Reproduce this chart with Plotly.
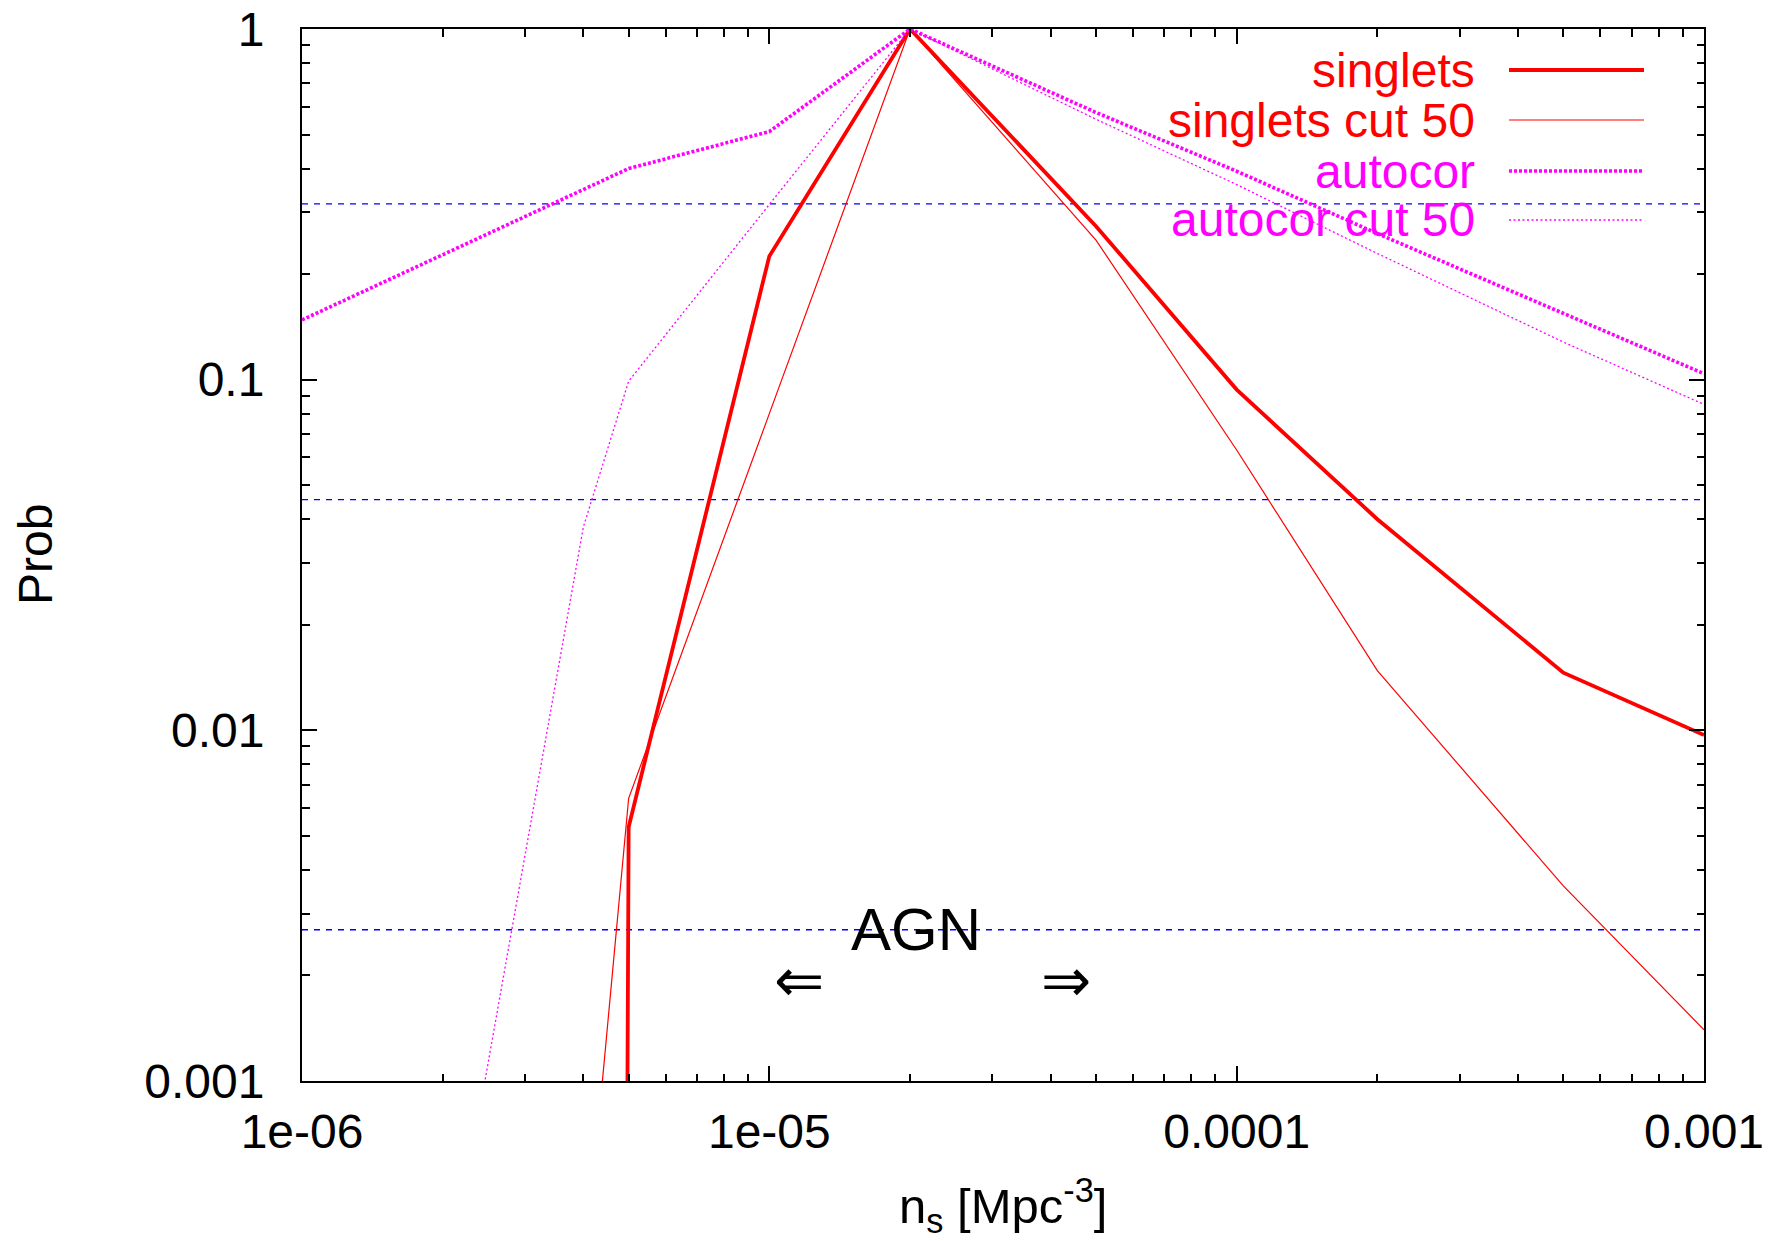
import math
import plotly.graph_objects as go

# number density of sources [Mpc^-3] and the probability curves
ns_singlets = [4e-6, 5e-6, 1e-5, 2e-5, 5e-5, 1e-4, 2e-4, 5e-4, 1e-3]
p_singlets = [1e-30, 0.0053, 0.225, 1.0, 0.274, 0.0937, 0.040, 0.0146, 0.0097]

ns_singlets_cut = [4e-6, 5e-6, 1e-5, 2e-5, 5e-5, 1e-4, 2e-4, 5e-4, 1e-3]
p_singlets_cut = [2.6e-4, 0.0064, 0.080, 1.0, 0.25, 0.063, 0.0148, 0.0036, 0.0014]

ns_autocor = [1e-6, 5e-6, 1e-5, 2e-5, 5e-5, 1e-4, 2e-4, 5e-4, 1e-3]
p_autocor = [0.148, 0.40, 0.51, 1.0, 0.578, 0.393, 0.261, 0.155, 0.104]

ns_autocor_cut = [2e-6, 4e-6, 5e-6, 1e-5, 2e-5, 5e-5, 1e-4, 2e-4, 5e-4, 1e-3]
p_autocor_cut = [2.1e-4, 0.038, 0.099, 0.316, 1.0, 0.553, 0.36, 0.229, 0.128, 0.085]

# 1, 2 and 3 sigma probability levels
sigma_levels = [0.3173, 0.0455, 0.0027]

x_tickvals = [1e-6, 1e-5, 1e-4, 1e-3]
x_ticktext = ["1e-06", "1e-05", "0.0001", "0.001"]
y_tickvals = [0.001, 0.01, 0.1, 1]
y_ticktext = ["0.001", "0.01", "0.1", "1"]

RED = "#ff0000"
MAGENTA = "#ff00ff"
BLUE = "#0000ff"
FONT = "Liberation Sans, Arial, Helvetica, sans-serif"

series = [
    ("singlets", ns_singlets, p_singlets, RED, 3.8, "solid"),
    ("singlets cut 50", ns_singlets_cut, p_singlets_cut, RED, 1.2, "solid"),
    ("autocor", ns_autocor, p_autocor, MAGENTA, 3.6, "3px,2px"),
    ("autocor cut 50", ns_autocor_cut, p_autocor_cut, MAGENTA, 1.3, "2px,2.5px"),
]

fig = go.Figure()

for lvl in sigma_levels:
    fig.add_trace(go.Scatter(
        x=[x_tickvals[0], x_tickvals[-1]], y=[lvl, lvl], mode="lines",
        line=dict(color=BLUE, width=1.3, dash="6px,6px"),
        showlegend=False, hoverinfo="skip"))

for name, xs, ys, col, w, dash in series:
    fig.add_trace(go.Scatter(
        x=xs, y=ys, mode="lines", name=name,
        line=dict(color=col, width=w, dash=dash),
        showlegend=False))


def minor_vals(lo, hi):
    vals = []
    for e in range(lo, hi):
        for k in range(2, 10):
            vals.append(k * 10.0 ** e)
    return vals


axis_common = dict(
    type="log", showline=True, linecolor="black", linewidth=2, mirror="ticks",
    ticks="inside", ticklen=15, tickwidth=2, tickcolor="black",
    showgrid=False, zeroline=False, automargin=False,
    tickfont=dict(family=FONT, size=48, color="black"),
)

fig.update_xaxes(
    **axis_common, range=[-6, -3], tickvals=x_tickvals, ticktext=x_ticktext,
    ticklabelstandoff=7,
    minor=dict(tickvals=minor_vals(-6, -3), ticks="inside", ticklen=7.5,
               tickwidth=2, tickcolor="black", showgrid=False),
)
fig.update_yaxes(
    **axis_common, range=[-3, 0], tickvals=y_tickvals, ticktext=y_ticktext,
    ticklabelstandoff=26,
    minor=dict(tickvals=minor_vals(-3, 0), ticks="inside", ticklen=7.5,
               tickwidth=2, tickcolor="black", showgrid=False),
)

W, H = 1789, 1241
L, R, T, B = 302, 85, 29, 160
PW, PH = W - L - R, H - T - B


def px(x):
    return (x - L) / PW


def py(y):
    return (H - B - y) / PH


annotations = []

# legend: right-aligned label followed by a line sample
legend_rows = [70, 120, 171, 220]
for (name, xs, ys, col, w, dash), yrow in zip(series, legend_rows):
    annotations.append(dict(
        x=px(1477), y=py(yrow), xref="paper", yref="paper", text=name,
        showarrow=False, xanchor="right", yanchor="middle",
        font=dict(family=FONT, size=48, color=col)))
    fig.add_shape(type="line", xref="paper", yref="paper",
                  x0=px(1509), x1=px(1644), y0=py(yrow), y1=py(yrow),
                  line=dict(color=col, width=w, dash=dash))

# AGN label with arrows
annotations.append(dict(
    x=-4.686, y=-2.567, xref="x", yref="y", text="AGN", showarrow=False,
    xanchor="center", yanchor="middle",
    font=dict(family=FONT, size=60, color="black")))
annotations.append(dict(
    x=-4.936, y=-2.713, xref="x", yref="y", text="\u21d0", showarrow=False,
    xanchor="center", yanchor="middle",
    font=dict(family="DejaVu Sans", size=60, color="black")))
annotations.append(dict(
    x=-4.365, y=-2.713, xref="x", yref="y", text="\u21d2", showarrow=False,
    xanchor="center", yanchor="middle",
    font=dict(family="DejaVu Sans", size=60, color="black")))

# axis titles
annotations.append(dict(
    x=px(1003), y=py(1205), xref="paper", yref="paper",
    text="n<sub>s</sub> [Mpc<sup>-3</sup>]", showarrow=False,
    xanchor="center", yanchor="middle",
    font=dict(family=FONT, size=49, color="black")))
annotations.append(dict(
    x=px(35), y=py(555), xref="paper", yref="paper", text="Prob",
    showarrow=False, textangle=-90, xanchor="center", yanchor="middle",
    font=dict(family=FONT, size=48, color="black")))

fig.update_layout(
    width=W, height=H, autosize=False,
    margin=dict(l=L, r=R, t=T, b=B, autoexpand=False),
    paper_bgcolor="white", plot_bgcolor="white",
    showlegend=False, annotations=annotations,
)

fig.write_html("out.html")
